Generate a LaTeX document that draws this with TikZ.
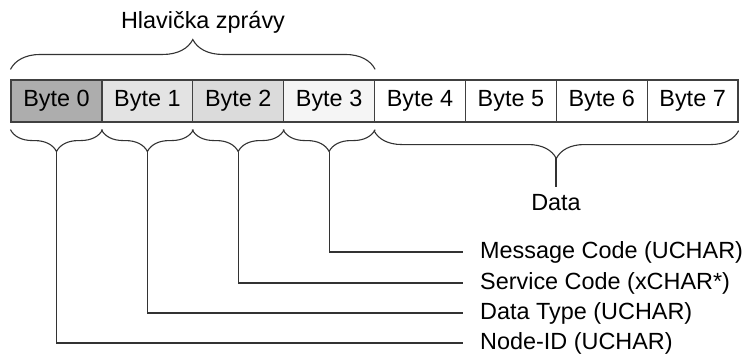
\documentclass[tikz,border=0pt]{standalone}
\usepackage{fontspec}
\setmainfont{Liberation Sans}
\usetikzlibrary{decorations.pathreplacing}

\begin{document}
\begin{tikzpicture}[x=1bp,y=-1bp,
  byte node/.style={draw=black!75,line width=1.2bp,minimum width=90.9bp,minimum height=42bp,inner sep=0,font=\fontsize{23.5}{28}\selectfont},
  text node/.style={inner sep=0,font=\fontsize{23.5}{28}\selectfont},
  brace line/.style={decorate,decoration={brace,amplitude=#1},draw=black!80,line width=1.1bp},
  link/.style={draw=black!80,line width=1.1bp}]

\useasboundingbox (0,0) rectangle (746,358);

\node[byte node,fill=black!32] (n0) at (56.5,101) {Byte 0};
\node[byte node,fill=black!11] (n1) at (147.4,101) {Byte 1};
\node[byte node,fill=black!14] (n2) at (238.2,101) {Byte 2};
\node[byte node,fill=black!4] (n3) at (329.1,101) {Byte 3};
\node[byte node] (n4) at (420,101) {Byte 4};
\node[byte node] (n5) at (510.9,101) {Byte 5};
\node[byte node] (n6) at (601.7,101) {Byte 6};
\node[byte node] (n7) at (692.6,101) {Byte 7};

\node[text node] (head) at (203,22) {Hlavička zprávy};
\node[text node] (data) at (556,203) {Data};

\node[text node,anchor=west] (l3) at (480,252) {Message Code (UCHAR)};
\node[text node,anchor=west] (l2) at (480,283) {Service Code (xCHAR*)};
\node[text node,anchor=west] (l1) at (480,313) {Data Type (UCHAR)};
\node[text node,anchor=west] (l0) at (480,343) {Node-ID (UCHAR)};

% braces
\draw[brace line=30] ([yshift=10bp]n0.north west) -- ([yshift=10bp]n3.north east);
\draw[brace line=22] ([yshift=-7bp]n0.south east) -- ([yshift=-7bp]n0.south west);
\draw[brace line=22] ([yshift=-7bp]n1.south east) -- ([yshift=-7bp]n1.south west);
\draw[brace line=22] ([yshift=-7bp]n2.south east) -- ([yshift=-7bp]n2.south west);
\draw[brace line=22] ([yshift=-7bp]n3.south east) -- ([yshift=-7bp]n3.south west);
\draw[brace line=28] ([yshift=-8bp]n7.south east) -- ([yshift=-8bp]n4.south west);

\coordinate (t0) at ([yshift=-29bp]n0.south);
\coordinate (t1) at ([yshift=-29bp]n1.south);
\coordinate (t2) at ([yshift=-29bp]n2.south);
\coordinate (t3) at ([yshift=-29bp]n3.south);
\coordinate (td) at (556,158);

\path[link] (t3) |- ([xshift=-17bp]l3.west)
  (t2) |- ([xshift=-17bp]l2.west)
  (t1) |- ([xshift=-17bp]l1.west)
  (t0) |- ([xshift=-17bp]l0.west)
  (td) -- ([yshift=8bp]data.north);

\end{tikzpicture}
\end{document}
